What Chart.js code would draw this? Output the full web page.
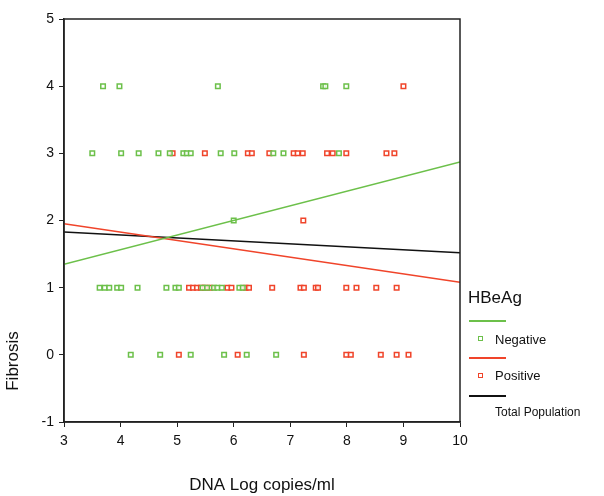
<!DOCTYPE html>
<html lang="en">
<head>
  <meta charset="UTF-8">
  <title>Fibrosis vs DNA</title>
  <script src="https://cdn.jsdelivr.net/npm/chart.js"></script>
  <style>
    body { margin: 0; background: #fff; font-family: "Liberation Sans", Arial, sans-serif; }
    .wrap { position: relative; width: 604px; height: 496px; }
    .ytitle { position: absolute; left: -27px; top: 351px; width: 80px; text-align: center;
      font-size: 17px; transform: rotate(-90deg); color: #111; }
    .legend { position: absolute; left: 468px; top: 288px; color: #111; }
    .legend .title { font-size: 17px; margin-left: 0; }
    .legend .line { position: absolute; left: 1px; width: 37px; height: 2px; }
    .legend .mark { position: absolute; left: 10px; width: 3px; height: 3px; border: 1.5px solid; background: #fff; }
    .legend .lbl { position: absolute; left: 27px; font-size: 13px; white-space: nowrap; }
  </style>
</head>
<body>
  <div class="wrap">
    <canvas id="chart" width="604" height="496"></canvas>
    <div class="ytitle">Fibrosis</div>
    <div class="legend">
      <div class="title">HBeAg</div>
      <div class="line" style="top:32px;background:#6cc04a"></div>
      <div class="mark" style="top:48px;border-color:#6cc04a"></div>
      <div class="lbl" style="top:44px">Negative</div>
      <div class="line" style="top:69px;background:#f0442a"></div>
      <div class="mark" style="top:85px;border-color:#f0442a"></div>
      <div class="lbl" style="top:80px">Positive</div>
      <div class="line" style="top:107px;background:#111"></div>
      <div class="lbl" style="top:117px;font-size:12px">Total Population</div>
    </div>
  </div>

  <script>
    // Scatter data: [DNA log copies/ml, fibrosis score]
    const negX = [3.69, 3.98, 5.72, 7.58, 7.62, 7.99,
                  3.50, 4.01, 4.32, 4.67, 4.87, 5.11, 5.17, 5.24, 5.77, 6.01, 6.70, 6.88, 7.86,
                  6.00,
                  3.63, 3.72, 3.80, 3.94, 4.01, 4.30, 4.81, 4.97, 5.03, 5.45, 5.53, 5.65, 5.71, 5.79, 6.10, 6.16,
                  4.18, 4.70, 5.24, 5.83, 6.23, 6.75];
    const negY = [4, 4, 4, 4, 4, 4,
                  3, 3, 3, 3, 3, 3, 3, 3, 3, 3, 3, 3, 3,
                  2,
                  1, 1, 1, 1, 1, 1, 1, 1, 1, 1, 1, 1, 1, 1, 1, 1,
                  0, 0, 0, 0, 0, 0];
    const posX = [9.00,
                  4.92, 5.49, 6.25, 6.32, 6.63, 7.06, 7.13, 7.22, 7.65, 7.75, 7.99, 8.70, 8.84,
                  7.23,
                  5.21, 5.28, 5.35, 5.42, 5.49, 5.59, 5.89, 5.96, 6.21, 6.27, 6.68, 7.18, 7.24, 7.45, 7.49, 7.99, 8.17, 8.52, 8.88,
                  5.03, 6.07, 7.24, 7.99, 8.07, 8.60, 8.88, 9.09];
    const posY = [4,
                  3, 3, 3, 3, 3, 3, 3, 3, 3, 3, 3, 3, 3,
                  2,
                  1, 1, 1, 1, 1, 1, 1, 1, 1, 1, 1, 1, 1, 1, 1, 1, 1, 1, 1,
                  0, 0, 0, 0, 0, 0, 0, 0];

    // Fit lines: endpoints at x = 3 and x = 10
    const fitX = [3, 10];
    const negFit = [1.35, 2.87];
    const posFit = [1.95, 1.08];
    const totalFit = [1.83, 1.52];

    const xTicks = [3, 4, 5, 6, 7, 8, 9, 10];
    const yTicks = [-1, 0, 1, 2, 3, 4, 5];

    const green = '#6cc04a';
    const red = '#f0442a';

    const toPts = (xs, ys) => xs.map((x, i) => ({ x: x, y: ys[i] }));

    const frame = {
      id: 'frame',
      afterDraw(chart) {
        const a = chart.chartArea, ctx = chart.ctx;
        ctx.save();
        ctx.strokeStyle = '#222';
        ctx.lineWidth = 1.5;
        ctx.strokeRect(a.left, a.top, a.right - a.left, a.bottom - a.top);
        ctx.restore();
      }
    };

    const tickStyle = { color: '#111', font: { family: 'Liberation Sans', size: 14 } };

    new Chart(document.getElementById('chart'), {
      type: 'scatter',
      data: {
        datasets: [
          { type: 'line', data: toPts(fitX, negFit), borderColor: green, borderWidth: 1.5, pointRadius: 0 },
          { type: 'line', data: toPts(fitX, posFit), borderColor: red, borderWidth: 1.5, pointRadius: 0 },
          { type: 'line', data: toPts(fitX, totalFit), borderColor: '#111', borderWidth: 1.5, pointRadius: 0 },
          { data: toPts(negX, negY), pointStyle: 'rect', pointRadius: 3.2, borderWidth: 1.5,
            borderColor: green, backgroundColor: 'rgba(255,255,255,0.8)' },
          { data: toPts(posX, posY), pointStyle: 'rect', pointRadius: 3.2, borderWidth: 1.5,
            borderColor: red, backgroundColor: 'rgba(255,255,255,0.8)' }
        ]
      },
      options: {
        responsive: false,
        animation: false,
        layout: { padding: { top: 19, right: 144, left: 0, bottom: 0 } },
        plugins: { legend: { display: false }, tooltip: { enabled: false } },
        scales: {
          x: {
            type: 'linear', min: 3, max: 10,
            afterFit: s => { s.height = 74; },
            afterBuildTicks: s => { s.ticks = xTicks.map(v => ({ value: v })); },
            grid: { drawOnChartArea: false, drawTicks: true, tickLength: 5, color: '#222' },
            border: { display: true, color: '#222', width: 1.5 },
            ticks: Object.assign({ padding: 6, maxRotation: 0 }, tickStyle),
            title: { display: true, text: 'DNA Log copies/ml', color: '#111',
              font: { family: 'Liberation Sans', size: 17 }, padding: { top: 22, bottom: 0 } }
          },
          y: {
            type: 'linear', min: -1, max: 5,
            afterFit: s => { s.width = 64; },
            afterBuildTicks: s => { s.ticks = yTicks.map(v => ({ value: v })); },
            grid: { drawOnChartArea: false, drawTicks: true, tickLength: 5, color: '#222' },
            border: { display: true, color: '#222', width: 1.5 },
            ticks: Object.assign({ padding: 5 }, tickStyle)
          }
        }
      },
      plugins: [frame]
    });
  </script>
</body>
</html>
